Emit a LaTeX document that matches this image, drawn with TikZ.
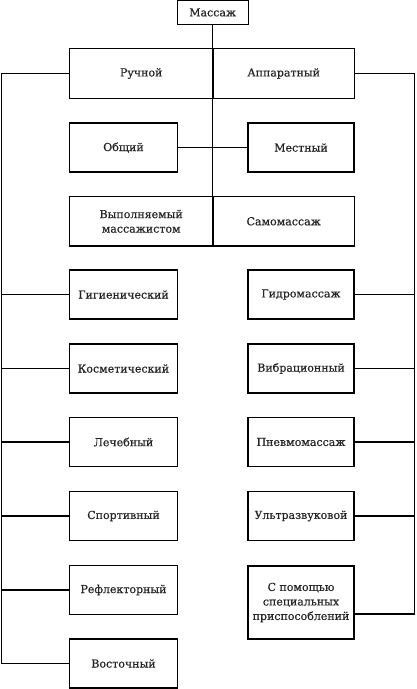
\documentclass[tikz,border=0pt]{standalone}
\usepackage{fontspec}
\setmainfont{DejaVu Serif}[FakeBold=0.6]
\begin{document}
\begin{tikzpicture}[x=1pt,y=-1pt,
  box/.style={draw, line width=1.2pt, inner sep=0pt, align=center,
    font=\fontsize{11}{14.5}\selectfont, text=black!85},
  lbox/.style={box, minimum width=108.5pt, minimum height=49pt},
  rbox/.style={box, minimum width=106pt, minimum height=49pt},
  half/.style={box, minimum height=49.5pt},
  conn/.style={line width=1.2pt}]
\useasboundingbox (0,0) rectangle (416,689);
% top
\node[box, minimum width=71pt, minimum height=23.5pt] (mas) at (212.7,12.4) {Массаж};
% split boxes
\node[half, minimum width=144pt] (ruch) at (141.2,73.5) {Ручной};
\node[half, minimum width=141pt] (app) at (283.7,73.5) {Аппаратный};
\node[lbox] (obsh) at (123.5,147.5) {Общий};
\node[rbox] (mest) at (301,147.5) {Местный};
\node[half, minimum width=144pt] (vyp) at (141.2,221.3) {Выполняемый\\массажистом};
\node[half, minimum width=141pt] (samo) at (283.7,221.3) {Самомассаж};
% left column
\node[lbox] (gig) at (123.5,294.5) {Гигиенический};
\node[lbox] (kosm) at (123.5,368.5) {Косметический};
\node[lbox] (lech) at (123.5,442) {Лечебный};
\node[lbox] (sport) at (123.5,516) {Спортивный};
\node[lbox] (refl) at (123.5,590) {Рефлекторный};
\node[lbox] (vost) at (123.5,663.5) {Восточный};
% right column
\node[rbox] (gidro) at (301,294.5) {Гидромассаж};
\node[rbox] (vibr) at (301,368.5) {Вибрационный};
\node[rbox] (pnev) at (301,442) {Пневмомассаж};
\node[rbox] (ultra) at (301,516) {Ультразвуковой};
\node[rbox, minimum height=73pt] (spec) at (301,602.5) {С помощью\\специальных\\приспособлений};
% buses
\coordinate (lb) at (1.2,73.5);
\coordinate (rb) at (414.8,73.5);
\coordinate (specin) at ([yshift=-11.5pt]spec.east);
% connectors
\draw[conn] (mas.south) -- (mas.south |- vyp.south);
\draw[conn] (obsh.east) -- (mest.west);
\draw[conn] (ruch.west) -- (lb) |- (vost.west);
\foreach \n in {gig,kosm,lech,sport,refl}
  \draw[conn] (\n.west) -- (\n.west -| lb);
\draw[conn] (app.east) -- (rb) |- (specin);
\foreach \n in {gidro,vibr,pnev,ultra}
  \draw[conn] (\n.east) -- (\n.east -| rb);
\end{tikzpicture}
\end{document}
